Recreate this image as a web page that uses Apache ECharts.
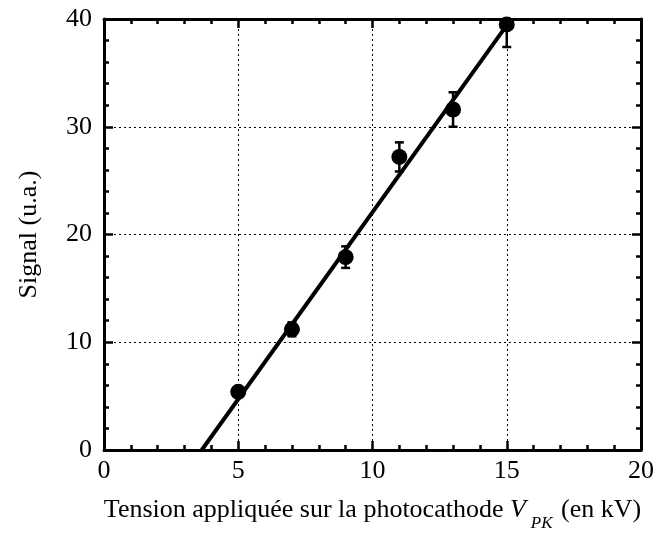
<!DOCTYPE html>
<html><head><meta charset="utf-8">
<script src="https://cdn.jsdelivr.net/npm/echarts@6/dist/echarts.min.js"></script>
<style>html,body{margin:0;padding:0;background:#fff}#c{width:658px;height:543px}</style>
</head><body><div id="c"></div>
<script>
const xValues = [5, 7, 9, 11, 13, 15];
const yValues = [5.4, 11.2, 17.9, 27.2, 31.6, 39.5];
const yErrors = [0.4, 0.65, 1.0, 1.35, 1.6, 2.1];
const fitX = [3.64, 15.05];
const fitY = [0, 39.6];
const xTicks = [0, 5, 10, 15, 20];
const yTicks = [0, 10, 20, 30, 40];

const FONT = 'Liberation Serif';
const FS = 26;
const chart = echarts.init(document.getElementById('c'));
const points = xValues.map((x, i) => [x, yValues[i]]);
const errs = xValues.map((x, i) => [x, yValues[i], yErrors[i]]);
const fit = fitX.map((x, i) => [x, fitY[i]]);

function axisCommon(show, margin) {
  return {
    axisLine: {show: true, onZero: false, lineStyle: {color: '#000', width: 3}},
    axisTick: {show: true, inside: true, length: 9, lineStyle: {color: '#000', width: 2.5}},
    minorTick: {show: true, splitNumber: 5, length: 5, lineStyle: {color: '#000', width: 2.5}},
    axisLabel: {show: show, color: '#000', fontFamily: FONT, fontSize: FS, margin: margin || 8},
  };
}

chart.setOption({
  animation: false,
  backgroundColor: '#fff',
  grid: {left: 104, right: 17, top: 19, bottom: 93},
  xAxis: [
    Object.assign({type: 'value', min: xTicks[0], max: xTicks[xTicks.length-1], interval: 5, position: 'bottom',
      splitLine: {show: true, lineStyle: {color: '#000', type: [2, 3], width: 1}},
      name: 'Tension appliquée sur la photocathode {i|V}{sub|PK} {t|(en kV)}',
      nameLocation: 'middle', nameGap: 39,
      nameTextStyle: {color: '#000', fontFamily: FONT, fontSize: FS,
        rich: {
          i: {fontFamily: FONT, fontSize: FS, fontStyle: 'italic', color: '#000'},
          t: {fontFamily: FONT, fontSize: FS, color: '#000'},
          sub: {fontFamily: FONT, fontSize: 17, fontStyle: 'italic', color: '#000', padding: [26, 2, 0, 5], verticalAlign: 'bottom'}
        }}
    }, axisCommon(true, 8)),
    Object.assign({type: 'value', min: 0, max: 20, interval: 5, position: 'top', splitLine: {show: false}}, axisCommon(false))
  ],
  yAxis: [
    Object.assign({type: 'value', min: yTicks[0], max: yTicks[yTicks.length-1], interval: 10, position: 'left',
      splitLine: {show: true, lineStyle: {color: '#000', type: [2, 3], width: 1}},
      name: 'Signal (u.a.)', nameLocation: 'middle', nameGap: 62,
      nameTextStyle: {color: '#000', fontFamily: FONT, fontSize: FS}
    }, axisCommon(true, 12)),
    Object.assign({type: 'value', min: 0, max: 40, interval: 10, position: 'right', splitLine: {show: false}}, axisCommon(false))
  ],
  series: [
    {type: 'line', data: fit, symbol: 'none', lineStyle: {color: '#000', width: 4}, clip: true, z: 3},
    {type: 'custom', data: errs, clip: true, z: 4,
      renderItem: function (params, api) {
        const x = api.value(0), y = api.value(1), e = api.value(2);
        const top = api.coord([x, y + e]);
        const bot = api.coord([x, y - e]);
        const hw = 4.5;
        const st = {stroke: '#000', lineWidth: 2.5};
        return {type: 'group', children: [
          {type: 'line', shape: {x1: top[0], y1: top[1], x2: bot[0], y2: bot[1]}, style: st},
          {type: 'line', shape: {x1: top[0]-hw, y1: top[1], x2: top[0]+hw, y2: top[1]}, style: st},
          {type: 'line', shape: {x1: bot[0]-hw, y1: bot[1], x2: bot[0]+hw, y2: bot[1]}, style: st}
        ]};
      },
      encode: {x: 0, y: 1}
    },
    {type: 'scatter', data: points, symbol: 'circle', symbolSize: 16, itemStyle: {color: '#000', opacity: 1}, clip: false, z: 5}
  ]
});
</script></body></html>
